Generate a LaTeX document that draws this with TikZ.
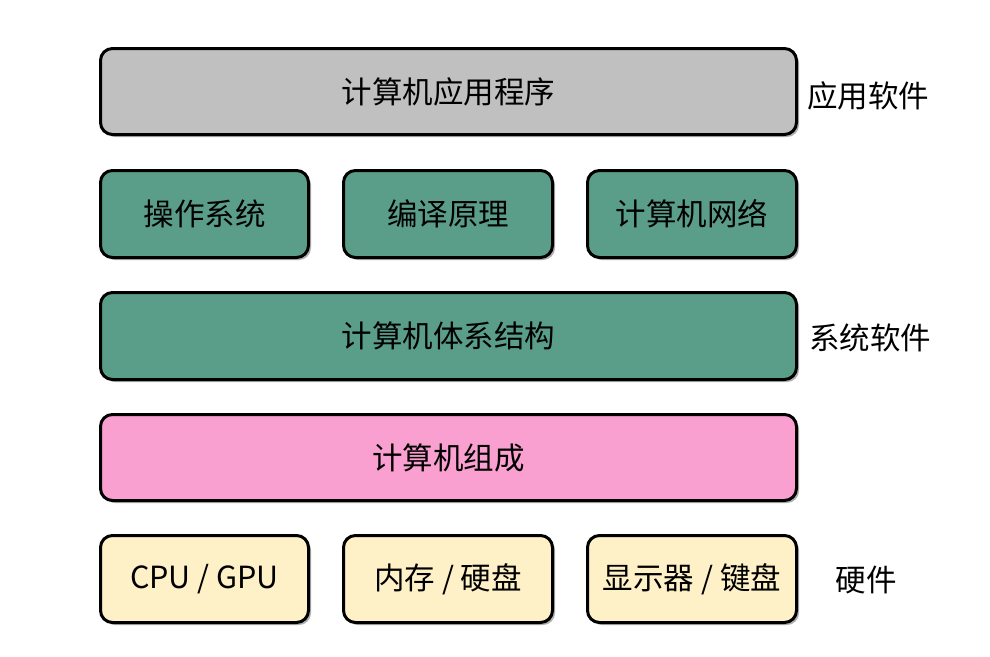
\documentclass[tikz,border=0pt]{standalone}
\usepackage{fontspec}
\newfontfamily\cjk{Noto Sans CJK SC}
\definecolor{cgray}{HTML}{C0C0C0}
\definecolor{cteal}{HTML}{5A9E8A}
\definecolor{cpink}{HTML}{F9A0D0}
\definecolor{cyellow}{HTML}{FEF1C8}
\definecolor{cshadow}{HTML}{B0B0B0}
\begin{document}
\begin{tikzpicture}[x=1pt,y=-1pt,
  layer/.style={draw=black,line width=3pt,rounded corners=12pt,
    font=\cjk\fontsize{30.5}{33}\selectfont,text=black,
    inner sep=0pt,anchor=north west},
  side/.style={font=\cjk\fontsize{30.5}{33}\selectfont,text=black}]
\useasboundingbox (0,0) rectangle (990,656);
\newcommand{\layerbox}[7]{%
  \fill[cshadow,rounded corners=12pt] (#2+4,#3+4) rectangle (#2+4+#4,#3+4+#5);
  \node[layer,fill=#6,minimum width=#4 pt,minimum height=#5 pt] (#1) at (#2,#3) {#7};}
\layerbox{app}{99}{47}{696}{86}{cgray}{计算机应用程序}
\layerbox{os}{99}{169}{208}{87}{cteal}{操作系统}
\layerbox{comp}{342}{169}{209}{87}{cteal}{编译原理}
\layerbox{net}{586}{169}{209}{87}{cteal}{计算机网络}
\layerbox{arch}{99}{291}{696}{87}{cteal}{计算机体系结构}
\layerbox{org}{99}{413}{696}{86}{cpink}{计算机组成}
\layerbox{cpu}{99}{534}{208}{87}{cyellow}{CPU / GPU}
\layerbox{mem}{342}{534}{209}{87}{cyellow}{内存 / 硬盘}
\layerbox{io}{586}{534}{209}{87}{cyellow}{显示器 / 键盘}
\node[side] (l1) at (868,96) {应用软件};
\node[side] (l2) at (870,338) {系统软件};
\node[side] (l3) at (866,580) {硬件};
\end{tikzpicture}
\end{document}
